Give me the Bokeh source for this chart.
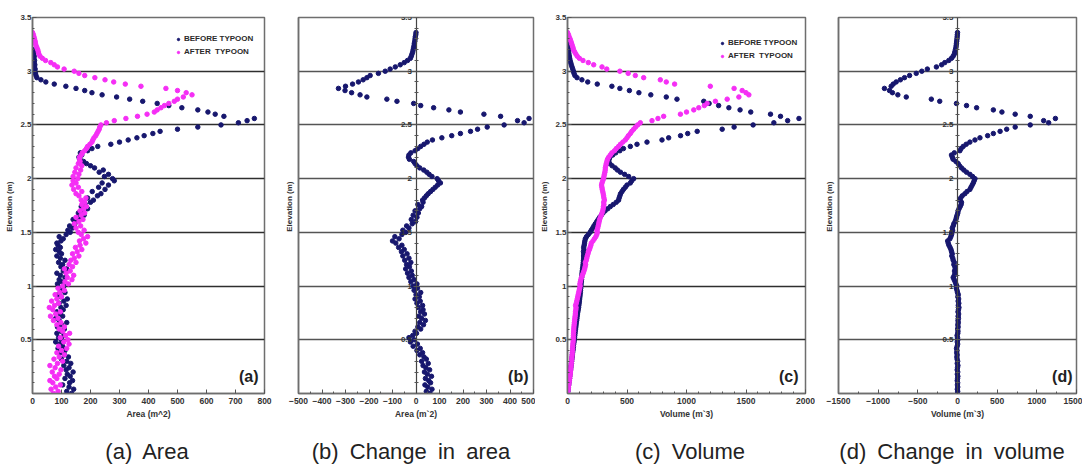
from bokeh.plotting import figure
from bokeh.layouts import row, column
from bokeh.models import (Range1d, FixedTicker, LinearAxis, Label, Legend,
                          LegendItem, ColumnDataSource, Div, Spacer)
from bokeh.embed import file_html
from bokeh.resources import INLINE

# ---------------- data ----------------
elev = [0.00, 0.02, 0.04, 0.06, 0.08, 0.10, 0.12, 0.14, 0.16, 0.18,
        0.20, 0.22, 0.24, 0.26, 0.28, 0.30, 0.32, 0.34, 0.36, 0.38,
        0.40, 0.42, 0.44, 0.46, 0.48, 0.50, 0.52, 0.54, 0.56, 0.58,
        0.60, 0.62, 0.64, 0.66, 0.68, 0.70, 0.72, 0.74, 0.76, 0.78,
        0.80, 0.82, 0.84, 0.86, 0.88, 0.90, 0.92, 0.94, 0.96, 0.98,
        1.00, 1.02, 1.04, 1.06, 1.08, 1.10, 1.12, 1.14, 1.16, 1.18,
        1.20, 1.22, 1.24, 1.26, 1.28, 1.30, 1.32, 1.34, 1.36, 1.38,
        1.40, 1.42, 1.44, 1.46, 1.48, 1.50, 1.52, 1.54, 1.56, 1.58,
        1.60, 1.62, 1.64, 1.66, 1.68, 1.70, 1.72, 1.74, 1.76, 1.78,
        1.80, 1.82, 1.84, 1.86, 1.88, 1.90, 1.92, 1.94, 1.96, 1.98,
        2.00, 2.02, 2.04, 2.06, 2.08, 2.10, 2.12, 2.14, 2.16, 2.18,
        2.20, 2.22, 2.24, 2.26, 2.28, 2.30, 2.32, 2.34, 2.36, 2.38,
        2.40, 2.42, 2.44, 2.46, 2.48, 2.50, 2.52, 2.54, 2.56, 2.58,
        2.60, 2.62, 2.64, 2.66, 2.68, 2.70, 2.72, 2.74, 2.76, 2.78,
        2.80, 2.82, 2.84, 2.86, 2.88, 2.90, 2.92, 2.94, 2.96, 2.98,
        3.00, 3.02, 3.04, 3.06, 3.08, 3.10, 3.12, 3.14, 3.16, 3.18,
        3.20, 3.22, 3.24, 3.26, 3.28, 3.30, 3.32, 3.34, 3.36]

# (a) area, m^2
area_before = [135, 118, 142, 126, 104, 128, 138, 112, 130, 120,
               140, 116, 126, 108, 132, 118, 100, 124, 110, 96,
               112, 88, 104, 94, 80, 100, 90, 108, 84, 98,
               110, 86, 100, 118, 92, 80, 104, 96, 84, 106,
               98, 116, 92, 108, 120, 98, 88, 112, 100, 94,
               108, 86, 100, 92, 112, 96, 84, 106, 118, 98,
               104, 90, 112, 96, 84, 100, 92, 80, 96, 88,
               84, 98, 106, 92, 116, 130, 122, 138, 128, 146,
               150, 140, 160, 178, 158, 172, 190, 168, 182, 200,
               210, 190, 224, 236, 206, 250, 228, 262, 240, 282,
               276, 248, 262, 230, 244, 214, 200, 186, 176, 164,
               160, 170, 165, 190, 205, 225, 270, 300, 330, 360,
               385, 415, 440, 500, 570, 650, 710, 740, 765, 660,
               630, 605, 570, 515, 470, 430, 380, 335, 290, 240,
               205, 180, 150, 115, 75, 46, 29, 15, 12, 10,
               8, 9, 7, 8, 6, 7, 5, 6, 4, 5,
               3]
area_after = [72, 88, 64, 80, 96, 70, 60, 84, 76, 92,
              68, 98, 78, 60, 86, 104, 74, 92, 110, 84,
              100, 118, 90, 126, 108, 122, 96, 114, 128, 104,
              92, 110, 84, 98, 72, 88, 62, 80, 96, 70,
              58, 76, 90, 66, 84, 100, 78, 94, 110, 88,
              104, 124, 112, 136, 120, 142, 116, 130, 110, 138,
              126, 150, 132, 144, 160, 138, 154, 170, 148, 164,
              184, 162, 176, 190, 168, 158, 178, 150, 166, 144,
              160, 174, 150, 168, 180, 164, 176, 186, 170, 180,
              168, 184, 160, 150, 170, 142, 158, 136, 150, 140,
              156, 140, 160, 146, 166, 150, 170, 158, 164, 162,
              162, 168, 172, 180, 186, 190, 198, 205, 208, 212,
              218, 222, 226, 230, 232, 236, 255, 282, 322, 362,
              395, 420, 430, 443, 455, 470, 489, 500, 520, 550,
              530, 500, 460, 374, 320, 280, 250, 215, 180, 160,
              144, 109, 86, 75, 63, 45, 34, 26, 22, 20,
              18, 15, 12, 10, 9, 7, 5, 3, 0]

# (b) change in area, m^2
area_change = [60, 44, 68, 50, 38, 62, 54, 40, 66, 48,
               36, 58, 42, 30, 52, 24, 44, 34, 16, 28,
               4, 18, -12, 6, -24, -8, -30, -14, 2, -4,
               20, 8, 32, 16, 40, 24, 12, 36, 20, 30,
               10, 28, 4, 18, -4, 14, 0, 20, -8, 6,
               -12, 4, -22, -8, -30, -16, -36, -20, -44, -28,
               -40, -22, -48, -30, -56, -38, -62, -50, -74, -60,
               -86, -100, -72, -90, -60, -44, -56, -30, -40, -16,
               -2, -20, 4, -12, 10, -4, 16, 24, 8, 30,
               28, 36, 44, 52, 62, 72, 82, 92, 104, 96,
               90, 68, 56, 46, 33, 16, 4, -4, -10, -28,
               -32, -30, -22, -4, 8, 20, 34, 48, 70, 110,
               152, 189, 232, 262, 303, 375, 460, 432, 481, 360,
               289, 189, 140, 75, 20, -10, -81, -124, -209, -238,
               -274, -302, -330, -300, -270, -245, -225, -209, -195, -160,
               -131, -110, -88, -67, -50, -36, -24, -20, -17, -14,
               -12, -10, -8, -7, -5, -4, -3, -1, 0]

# (c) volume, m^3
vol_before = [0, 3, 5, 8, 10, 12, 14, 17, 19, 21,
              23, 26, 28, 30, 33, 35, 37, 39, 41, 43,
              46, 48, 50, 52, 55, 57, 59, 61, 63, 65,
              68, 70, 72, 74, 77, 79, 81, 84, 87, 90,
              93, 95, 98, 100, 102, 104, 106, 108, 109, 111,
              113, 114, 116, 118, 119, 121, 122, 124, 126, 129,
              131, 133, 134, 136, 135, 137, 134, 138, 136, 140,
              143, 146, 150, 160, 175, 190, 200, 212, 222, 234,
              246, 258, 270, 284, 298, 316, 338, 360, 385, 410,
              429, 434, 440, 446, 458, 470, 486, 500, 528, 540,
              556, 514, 480, 445, 420, 401, 375, 355, 345, 350,
              356, 380, 405, 440, 470, 528, 584, 668, 794, 850,
              950, 1010, 1090, 1300, 1400, 1560, 1734, 1850, 1945, 1790,
              1706, 1540, 1450, 1356, 1270, 1190, 1145, 920, 830, 700,
              600, 520, 440, 373, 250, 170, 121, 80, 62, 55,
              50, 44, 38, 32, 27, 22, 18, 15, 12, 10,
              8, 6, 5, 3, 2]
vol_after = [0, 3, 6, 8, 11, 13, 16, 18, 20, 23,
             25, 27, 28, 30, 32, 34, 36, 37, 39, 40,
             42, 43, 44, 45, 47, 48, 49, 50, 51, 52,
             53, 54, 56, 58, 60, 62, 64, 66, 67, 70,
             72, 68, 74, 78, 82, 86, 90, 94, 98, 102,
             106, 104, 108, 112, 118, 124, 132, 138, 144, 148,
             152, 150, 158, 162, 166, 172, 176, 184, 190, 196,
             200, 214, 226, 238, 246, 250, 248, 254, 258, 262,
             266, 270, 276, 284, 290, 296, 300, 302, 306, 304,
             310, 306, 303, 300, 296, 292, 289, 286, 290, 296,
             303, 306, 310, 314, 317, 318, 322, 326, 331, 336,
             346, 360, 373, 395, 410, 429, 445, 465, 486, 500,
             512, 528, 540, 556, 572, 590, 612, 710, 760, 808,
             949, 1000, 1061, 1103, 1150, 1173, 1243, 1342, 1440, 1524,
             1500, 1468, 1400, 1200, 900, 830, 780, 640, 570, 510,
             440, 330, 290, 220, 175, 130, 100, 82, 70, 60,
             50, 46, 40, 34, 28, 22, 14, 8, 0]

# (d) change in volume, m^3
vol_change = [0, 2, -2, 3, -1, 2, -3, 1, 4, -2,
              3, -4, 0, 5, -3, 2, -5, -8, -4, -10,
              -6, -12, -4, 2, -3, 4, 0, -5, 3, 6,
              2, 8, 4, 10, 6, 12, 8, 14, 6, 12,
              18, 10, 16, 8, 14, 4, 10, 0, -6, -14,
              -8, -20, -30, -42, -54, -40, -30, -38, -28, -33,
              -46, -40, -54, -60, -72, -66, -75, -82, -94, -108,
              -117, -124, -96, -84, -75, -70, -62, -66, -54, -46,
              -30, -20, -13, -5, 4, 8, 20, 34, 46, 50,
              30, 40, 60, 93, 120, 156, 170, 185, 199, 210,
              220, 190, 156, 114, 80, 51, 25, 8, -20, -55,
              -65, -76, -40, 30, 45, 72, 110, 156, 220, 283,
              380, 452, 537, 620, 727, 917, 1149, 1086, 1234, 917,
              727, 560, 452, 241, 114, -13, -224, -330, -646, -752,
              -820, -857, -921, -836, -810, -773, -720, -668, -604, -520,
              -450, -380, -266, -200, -160, -110, -76, -55, -40, -34,
              -26, -20, -16, -13, -10, -7, -4, -2, 0]

elev_ticks = [0.5, 1.0, 1.5, 2.0, 2.5, 3.0, 3.5]
elev_minor = [0.1, 0.2, 0.3, 0.4, 0.6, 0.7, 0.8, 0.9, 1.1, 1.2, 1.3, 1.4,
              1.6, 1.7, 1.8, 1.9, 2.1, 2.2, 2.3, 2.4, 2.6, 2.7, 2.8, 2.9,
              3.1, 3.2, 3.3, 3.4]
grid_levels = [0.5, 1.0, 1.5, 2.0, 2.5, 3.0]
area_ticks = [0, 100, 200, 300, 400, 500, 600, 700, 800]
area_change_ticks = [-500, -400, -300, -200, -100, 0, 100, 200, 300, 400, 500]
area_change_minor = [-450, -350, -250, -150, -50, 50, 150, 250, 350, 450]
vol_ticks = [0, 500, 1000, 1500, 2000]
vol_minor = [100, 200, 300, 400, 600, 700, 800, 900, 1100, 1200, 1300, 1400,
             1600, 1700, 1800, 1900]
vol_change_ticks = [-1500, -1000, -500, 0, 500, 1000, 1500]
vol_change_minor = [-1250, -750, -250, 250, 750, 1250]

legend_labels = ["BEFORE TYPOON", "AFTER  TYPOON"]
captions = ["(a) Area", "(b) Change in area", "(c) Volume", "(d) Change in volume"]

# ---------------- style ----------------
NAVY = "#17176e"
MAGENTA = "#f52ef5"
FRAME = "#6e6e6e"
TICKFONT = "Liberation Sans"
H = 436
TOP = 17
BOTTOM = 43


def style_common(ax, fs="8.5px"):
    ax.major_label_text_font = TICKFONT
    ax.major_label_text_font_size = fs
    ax.major_label_text_font_style = "bold"
    ax.major_label_text_color = "#333333"
    ax.axis_line_color = FRAME
    ax.axis_line_width = 1.5
    ax.major_tick_line_color = "#555555"
    ax.minor_tick_line_color = "#555555"
    ax.major_tick_in = 4
    ax.major_tick_out = 0
    ax.minor_tick_in = 2
    ax.minor_tick_out = 0
    ax.axis_label_text_font = TICKFONT
    ax.axis_label_text_font_size = fs
    ax.axis_label_text_font_style = "bold"
    ax.axis_label_text_color = "#333333"


def make_panel(width, left, right, xr, xticks, xminor, xlabel, centered,
               grid_color, tag, tag_dx):
    p = figure(width=width, height=H, x_range=Range1d(*xr),
               y_range=Range1d(0, 3.5), output_backend="svg",
               toolbar_location=None, min_border_left=left,
               min_border_right=right, min_border_top=TOP,
               min_border_bottom=BOTTOM,
               y_axis_location=None if centered else "left")
    p.background_fill_color = "white"
    p.border_fill_color = "white"
    p.outline_line_color = FRAME
    p.outline_line_width = 1.5

    xa = p.xaxis[0]
    style_common(xa)
    xa.ticker = FixedTicker(ticks=xticks, minor_ticks=xminor)
    xa.axis_label = xlabel
    xa.major_label_standoff = 4
    xa.axis_label_standoff = 2
    p.xgrid.visible = False

    if not centered:
        ya = p.yaxis[0]
        style_common(ya, "8px")
        ya.ticker = FixedTicker(ticks=elev_ticks, minor_ticks=elev_minor)
        ya.axis_label = "Elevation  (m)"
        ya.major_label_standoff = 1
        ya.axis_label_standoff = 3
    else:
        outer = LinearAxis(ticker=FixedTicker(ticks=[], minor_ticks=[]),
                           axis_label="Elevation  (m)")
        style_common(outer, "8px")
        outer.axis_label_standoff = 5
        p.add_layout(outer, "left")
        mid = LinearAxis(ticker=FixedTicker(ticks=elev_ticks, minor_ticks=elev_minor),
                         fixed_location=0)
        style_common(mid, "8px")
        mid.axis_line_color = "#444444"
        mid.axis_line_width = 1.2
        mid.major_tick_in = 3
        mid.major_tick_out = 3
        mid.minor_tick_in = 2
        mid.minor_tick_out = 2
        mid.major_label_standoff = 1
        p.add_layout(mid, "left")

    p.ygrid.ticker = FixedTicker(ticks=grid_levels)
    p.ygrid.grid_line_color = grid_color
    p.ygrid.grid_line_width = 1.4

    fw = width - left - right
    p.add_layout(Label(x=fw - tag_dx, y=9, x_units="screen", y_units="screen",
                       text=tag, text_align="right", text_baseline="bottom",
                       text_font=TICKFONT, text_font_size="16px",
                       text_font_style="bold", text_color="#222222"))
    return p


def add_legend(p, rb, ra, lx, ly):
    leg = Legend(items=[LegendItem(label=legend_labels[0], renderers=[rb]),
                        LegendItem(label=legend_labels[1], renderers=[ra])],
                 location=(lx, ly), glyph_width=6, glyph_height=8,
                 label_standoff=3, padding=0, margin=0, spacing=0,
                 label_height=13, border_line_alpha=0,
                 background_fill_alpha=0, label_text_font=TICKFONT,
                 label_text_font_size="8px", label_text_font_style="bold",
                 label_text_color="#2a2a2a")
    p.add_layout(leg)


def caption_div(text, width):
    return Div(text=text, width=width, height=32, margin=0,
               styles={"font-family": "'Liberation Sans', Arial, sans-serif",
                       "font-size": "22px", "line-height": "32px",
                       "word-spacing": "5px",
                       "text-align": "center", "white-space": "nowrap",
                       "color": "#222222"})


src_a_b = ColumnDataSource(dict(y=elev[:len(area_before)], x=area_before))
src_a_a = ColumnDataSource(dict(y=elev[:len(area_after)], x=area_after))
src_b = ColumnDataSource(dict(y=elev[:len(area_change)], x=area_change))
src_c_b = ColumnDataSource(dict(y=elev[:len(vol_before)], x=vol_before))
src_c_a = ColumnDataSource(dict(y=elev[:len(vol_after)], x=vol_after))
src_d = ColumnDataSource(dict(y=elev[:len(vol_change)], x=vol_change))

SZ = 4.5

pa = make_panel(276, 32, 12, (0, 800), area_ticks, [], "Area (m^2)", False,
                "#2e2e2e", "(a)", 6)
rb = pa.scatter("x", "y", source=src_a_b, marker="circle", size=SZ, color=NAVY)
ra = pa.scatter("x", "y", source=src_a_a, marker="circle", size=SZ, color=MAGENTA)
add_legend(pa, rb, ra, 143, 335)

pb = make_panel(259, 22, 2, (-500, 500), area_change_ticks, area_change_minor,
                "Area (m`2)", True, "#555555", "(b)", 5)
pb.scatter("x", "y", source=src_b, marker="circle", size=SZ, color=NAVY)

pc = make_panel(280, 32, 10, (0, 2000), vol_ticks, vol_minor, "Volume (m`3)",
                False, "#2e2e2e", "(c)", 7)
rcb = pc.scatter("x", "y", source=src_c_b, marker="circle", size=SZ, color=NAVY)
rca = pc.scatter("x", "y", source=src_c_a, marker="circle", size=SZ, color=MAGENTA)
add_legend(pc, rcb, rca, 152, 331)

pd_ = make_panel(267, 23, 6, (-1500, 1500), vol_change_ticks, vol_change_minor,
                 "Volume (m`3)", True, "#555555", "(d)", 4)
pd_.scatter("x", "y", source=src_d, marker="circle", size=SZ, color=NAVY)

caps = row(caption_div(captions[0], 294), caption_div(captions[1], 234),
           Spacer(width=20, height=32, margin=0), caption_div(captions[2], 284),
           caption_div(captions[3], 240))

layout = column(row(pa, pb, pc, pd_), caps)
open("out.html", "w").write(file_html(layout, INLINE))
